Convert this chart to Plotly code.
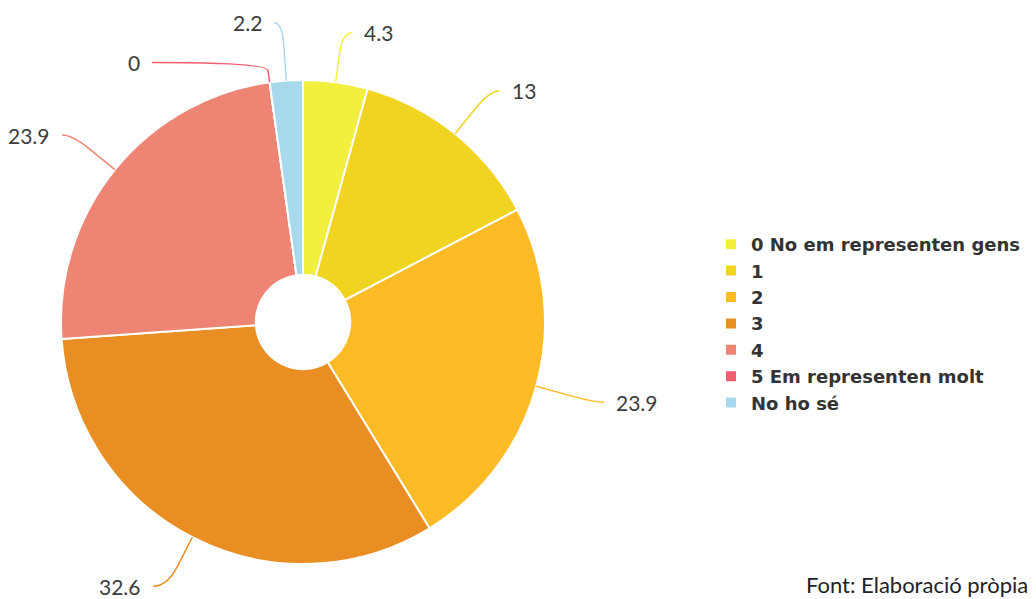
import math
import plotly.graph_objects as go

# ---- data ----
categories = ["0 No em representen gens", "1", "2", "3", "4", "5 Em representen molt", "No ho sé"]
values = [4.3, 13, 23.9, 32.6, 23.9, 0, 2.2]
value_labels = ["4.3", "13", "23.9", "32.6", "23.9", "0", "2.2"]
colors = ["#F3EF3F", "#F1D420", "#FDBC25", "#E98E23", "#EE8473", "#F25E6F", "#A7D8EC"]

# ---- layout constants (pixels) ----
W, H = 1036, 599
CX, CY, R = 303, 322, 242
HOLE = 0.195
# leader-line styling per slice: radial extension and horizontal tail
label_ext = [50, 55, 60, 55, 55, 20, 58]
label_tail = [10, 10, 10, 14, 10, 115, 8]


def px(x, y):
    return x / W, 1 - y / H


fig = go.Figure()
fig.add_trace(go.Pie(
    labels=categories,
    values=values,
    sort=False,
    direction="clockwise",
    rotation=0,
    hole=HOLE,
    textinfo="none",
    hoverinfo="label+value",
    marker=dict(colors=colors, line=dict(color="white", width=2)),
    domain=dict(x=[(CX - R) / W, (CX + R) / W], y=[1 - (CY + R) / H, 1 - (CY - R) / H]),
))

total = sum(values)
cum = 0.0
shapes = []
annotations = []
for v, lab, col, ext, tail in zip(values, value_labels, colors, label_ext, label_tail):
    mid = (cum + v / 2) / total * 2 * math.pi
    cum += v
    s, c = math.sin(mid), -math.cos(mid)
    p0 = (CX + R * s, CY + R * c)
    p1 = (CX + (R + ext) * s, CY + (R + ext) * c)
    side = 1 if s > 0.02 else -1
    pA = (p0[0] + 0.6 * (p1[0] - p0[0]), p0[1] + 0.6 * (p1[1] - p0[1]))
    p2 = (p1[0] + side * tail, p1[1])
    pts = [px(*p) for p in (p0, pA, p1, p2)]
    path = "M {0[0]},{0[1]} L {1[0]},{1[1]} Q {2[0]},{2[1]} {3[0]},{3[1]}".format(*pts)
    shapes.append(dict(type="path", xref="paper", yref="paper", path=path,
                       line=dict(color=col, width=1.5)))
    tx, ty = px(p2[0] + side * 10, p2[1])
    annotations.append(dict(x=tx, y=ty, xref="paper", yref="paper", text=lab, showarrow=False,
                            xanchor="left" if side > 0 else "right", yanchor="middle",
                            font=dict(family="Lato", size=21, color="#3d3d3d")))

fx, fy = px(1030, 584)
annotations.append(dict(x=fx, y=fy, xref="paper", yref="paper", text="Font: Elaboració pròpia",
                        showarrow=False, xanchor="right", yanchor="middle",
                        font=dict(family="Lato", size=22, color="#222222")))

lx, ly = px(711, 226)
fig.update_layout(
    width=W, height=H,
    margin=dict(l=0, r=0, t=0, b=0),
    paper_bgcolor="white",
    plot_bgcolor="white",
    shapes=shapes,
    annotations=annotations,
    showlegend=True,
    legend=dict(x=lx, y=ly, xanchor="left", yanchor="top",
                font=dict(family="DejaVu Sans", size=18, color="#333333", weight="bold"),
                tracegroupgap=0, itemwidth=30, bgcolor="rgba(0,0,0,0)"),
)

fig.write_html("out.html", config={"displayModeBar": False},
               post_script="document.body.style.margin='0';document.body.style.overflow='hidden';")
